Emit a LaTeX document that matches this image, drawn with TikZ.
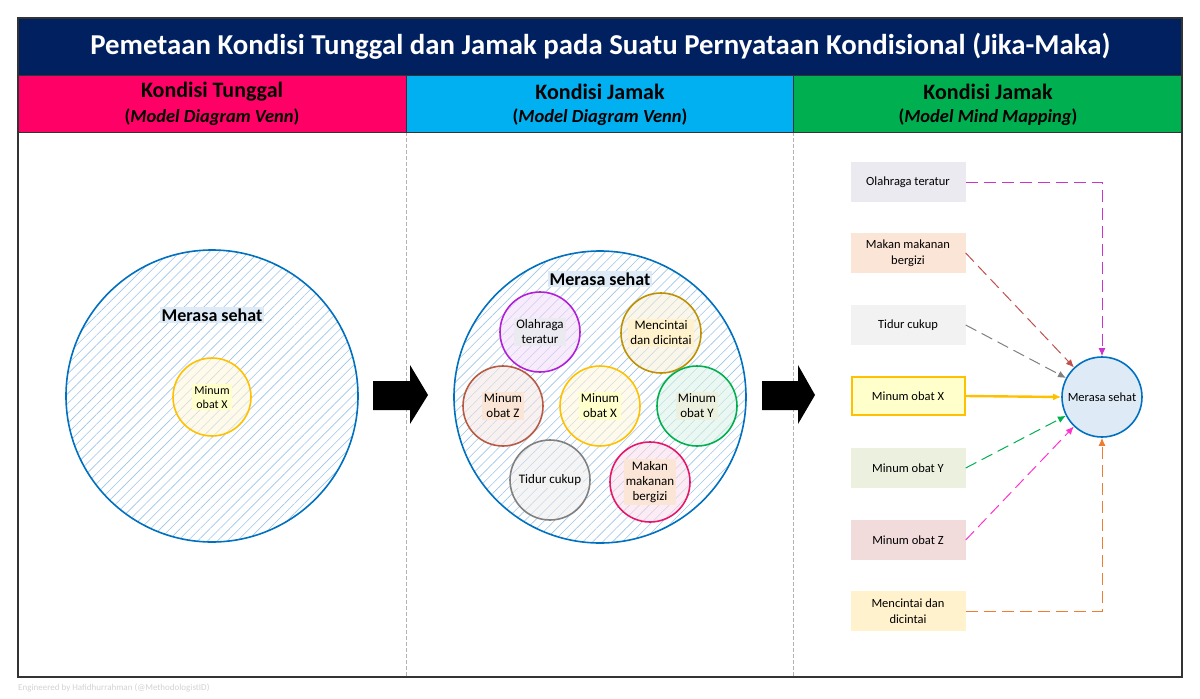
\documentclass[tikz,border=0pt]{standalone}
\usepackage{fontspec}
\setmainfont{Carlito}
\usepackage{xcolor}
\usepackage{tikz}
\usetikzlibrary{arrows.meta,positioning,patterns.meta}

\definecolor{navy}{HTML}{002060}
\definecolor{hdpink}{HTML}{FF0066}
\definecolor{hdcyan}{HTML}{00B0F0}
\definecolor{hdgreen}{HTML}{00B050}
\definecolor{vennblue}{HTML}{0070C0}
\definecolor{hatchblue}{HTML}{9DC3E6}
\definecolor{sehatfill}{HTML}{DEEBF7}
\definecolor{cYellow}{HTML}{FFC000}
\definecolor{cPurple}{HTML}{B21FD6}
\definecolor{cGold}{HTML}{BF9000}
\definecolor{cBrown}{HTML}{B85A42}
\definecolor{cGreen}{HTML}{00B050}
\definecolor{cGray}{HTML}{808080}
\definecolor{cRose}{HTML}{E6176B}
\definecolor{cMag}{HTML}{CC33CC}
\definecolor{cRed}{HTML}{C0504D}
\definecolor{cPink}{HTML}{FF33CC}
\definecolor{cOrange}{HTML}{ED7D31}
\definecolor{fOla}{HTML}{ECEAF1}
\definecolor{fMak}{HTML}{FBE5D6}
\definecolor{fTid}{HTML}{F2F2F2}
\definecolor{fX}{HTML}{FFFFCC}
\definecolor{fY}{HTML}{EBF1DE}
\definecolor{fZ}{HTML}{F2DCDB}
\definecolor{fCin}{HTML}{FFF2CC}

\tikzset{
  venn/.style={circle, draw=vennblue, line width=1.6pt, minimum size=292pt,
    pattern={Lines[angle=45,distance=7pt,line width=0.6pt]}, pattern color=hatchblue},
  smallc/.style={circle, draw=#1, line width=1.6pt, minimum size=80pt,
    fill=#1!15, fill opacity=0.55},
  ctext/.style={fill=#1, inner sep=2pt, align=center, font=\fontsize{13}{15}\selectfont},
  mbox/.style={fill=#1, minimum width=115pt, minimum height=40pt, align=center,
    font=\fontsize{12.5}{16}\selectfont},
  bigtag/.style={fill=sehatfill, inner sep=2pt, font=\bfseries\fontsize{18}{20}\selectfont},
  hdr/.style={fill=#1, anchor=north west, minimum height=57pt, inner sep=0pt},
  hdtitle/.style={inner sep=0pt, font=\bfseries\fontsize{22}{24}\selectfont},
  hdsub/.style={inner sep=0pt, font=\bfseries\fontsize{18.5}{20}\selectfont},
  link/.style={->, line width=1pt, dash pattern=on 12pt off 6pt}
}

\begin{document}
\begin{tikzpicture}[x=1pt,y=-1pt,>={Latex[length=8pt,width=7pt]}]
\useasboundingbox (0,0) rectangle (1200,699);

% Title and headers
\node[fill=navy, anchor=north west, minimum width=1164pt, minimum height=57pt, inner sep=0pt,
  text=white, font=\bfseries\fontsize{28.8}{32}\selectfont] (title) at (18,18)
  {Pemetaan Kondisi Tunggal dan Jamak pada Suatu Pernyataan Kondisional (Jika-Maka)};
\node[hdr=hdpink, minimum width=388pt] (hd1) at (18,75) {};
\node[hdr=hdcyan, minimum width=387pt] (hd2) at (406,75) {};
\node[hdr=hdgreen, minimum width=389pt] (hd3) at (793,75) {};
\node[hdtitle] (hd1-a) at (212,92) {Kondisi Tunggal};
\node[hdsub] (hd1-b) at (212,117) {(\textit{Model Diagram Venn})};
\node[hdtitle] (hd2-a) at (600,92) {Kondisi Jamak};
\node[hdsub] (hd2-b) at (600,117) {(\textit{Model Diagram Venn})};
\node[hdtitle] (hd3-a) at (988,92) {Kondisi Jamak};
\node[hdsub] (hd3-b) at (988,117) {(\textit{Model Mind Mapping})};

% Frame and dividers
\draw[gray!60, dash pattern=on 4pt off 2pt, line width=1pt] (406,132) -- (406,677);
\draw[gray!60, dash pattern=on 4pt off 2pt, line width=1pt] (793,132) -- (793,677);
\draw[black!80, line width=1.2pt] (18,18) rectangle (1182,677);
\draw[black!80, line width=0.6pt] (18,75) -- (1182,75);
\draw[black!80, line width=0.6pt] (18,132) -- (1182,132);
\draw[black!80, line width=0.6pt] (406,75) -- (406,132);
\draw[black!80, line width=0.6pt] (793,75) -- (793,132);

% Single condition
\node[venn] (venn1) at (212,396) {};
\node[bigtag] (tag1) at (212,315) {Merasa sehat};
\node[smallc=cYellow, minimum size=78pt] (x1) at (212,397) {};
\node[ctext=fX, font=\fontsize{12}{14}\selectfont] (x1t) at (x1) {Minum\\obat X};

% Block arrows
\fill[black] (373,381) -- (410,381) -- (410,365) -- (428,395) -- (410,424) -- (410,410) -- (373,410) -- cycle;
\fill[black] (762,381) -- (798,381) -- (798,365) -- (815,395) -- (798,424) -- (798,410) -- (762,410) -- cycle;

% Multiple conditions (Venn)
\node[venn] (venn2) at (600,397) {};
\node[bigtag] (tag2) at (600,279) {Merasa sehat};
\node[smallc=cPurple] (c-ola) at (540,332) {};
\node[smallc=cGold] (c-cin) at (661,333) {};
\node[smallc=cBrown] (c-z) at (503,406) {};
\node[smallc=cYellow] (c-x) at (600,406) {};
\node[smallc=cGreen] (c-y) at (697,406) {};
\node[smallc=cGray] (c-tid) at (550,480) {};
\node[smallc=cRose] (c-mak) at (650,482) {};
\node[ctext=fOla] (c-ola-t) at (c-ola) {Olahraga\\teratur};
\node[ctext=fCin] (c-cin-t) at (c-cin) {Mencintai\\dan dicintai};
\node[ctext=fMak] (c-z-t) at (c-z) {Minum\\obat Z};
\node[ctext=fX] (c-x-t) at (c-x) {Minum\\obat X};
\node[ctext=fY] (c-y-t) at (c-y) {Minum\\obat Y};
\node[ctext=fTid] (c-tid-t) at (c-tid) {Tidur cukup};
\node[ctext=fMak] (c-mak-t) at (c-mak) {Makan\\makanan\\bergizi};

% Multiple conditions (mind map)
\node[circle, draw=vennblue, fill=sehatfill, line width=1.6pt, minimum size=80pt, inner sep=0pt,
  font=\fontsize{12.5}{14}\selectfont] (m-sehat) at (1102,397) {Merasa sehat};
\node[mbox=fOla] (m-ola) at (908,182) {Olahraga teratur};
\node[mbox=fMak] (m-mak) at (908,253) {Makan makanan\\bergizi};
\node[mbox=fTid] (m-tid) at (908,325) {Tidur cukup};
\node[mbox=fX, draw=cYellow, line width=2pt, minimum width=113pt, minimum height=38pt] (m-x) at (908,396) {Minum obat X};
\node[mbox=fY] (m-y) at (908,468) {Minum obat Y};
\node[mbox=fZ] (m-z) at (908,540) {Minum obat Z};
\node[mbox=fCin] (m-cin) at (908,611) {Mencintai dan\\dicintai};

\draw[link, cMag] (m-ola.east) -| (m-sehat.north);
\draw[link, cRed] (m-mak.east) -- (m-sehat);
\draw[link, cGray] (m-tid.east) -- (m-sehat);
\draw[->, cYellow, line width=2.4pt] (m-x.east) -- (m-sehat.west);
\draw[link, cGreen] (m-y.east) -- (m-sehat);
\draw[link, cPink] (m-z.east) -- (m-sehat);
\draw[link, cOrange] (m-cin.east) -| (m-sehat.south);

% Credit
\node[anchor=west, inner sep=0pt, text=gray!35, font=\fontsize{9}{11}\selectfont] (credit) at (18,688)
  {Engineered by Hafidhurrahman (@MethodologistID)};

\end{tikzpicture}
\end{document}
